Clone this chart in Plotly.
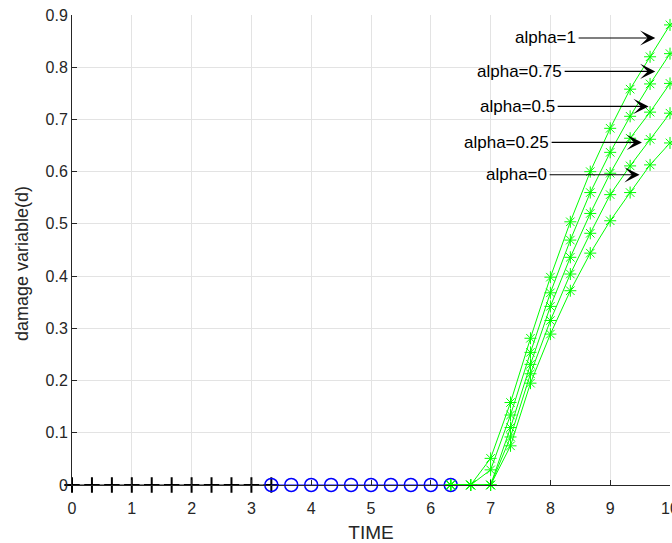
import plotly.graph_objects as go

# ---- data ----
t_black = [0, 1/3, 2/3, 1, 4/3, 5/3, 2, 7/3, 8/3, 3, 10/3]
d_black = [0] * len(t_black)

t_blue = [10/3, 11/3, 4, 13/3, 14/3, 5, 16/3, 17/3, 6, 19/3]
d_blue = [0] * len(t_blue)

t_green = [19/3, 20/3, 7, 22/3, 23/3, 8, 25/3, 26/3, 9, 28/3, 29/3, 10]
d_alpha_1    = [0, 0, 0.051, 0.158, 0.281, 0.398, 0.504, 0.600, 0.683, 0.758, 0.820, 0.881]
d_alpha_075  = [0, 0, 0.029, 0.134, 0.254, 0.368, 0.469, 0.560, 0.637, 0.706, 0.768, 0.826]
d_alpha_05   = [0, 0, 0.0,   0.110, 0.231, 0.342, 0.436, 0.520, 0.597, 0.664, 0.714, 0.769]
d_alpha_025  = [0, 0, 0.0,   0.092, 0.213, 0.315, 0.404, 0.482, 0.556, 0.611, 0.662, 0.712]
d_alpha_0    = [0, 0, 0.0,   0.075, 0.195, 0.289, 0.372, 0.444, 0.506, 0.560, 0.613, 0.655]

labels = ["alpha=1", "alpha=0.75", "alpha=0.5", "alpha=0.25", "alpha=0"]
x_ticks = list(range(0, 11))
y_ticks = [0, 0.1, 0.2, 0.3, 0.4, 0.5, 0.6, 0.7, 0.8, 0.9]

# annotation arrow geometry (tail x, head x, y) in data units
arrow_tail_x = [8.447, 8.213, 8.096, 7.995, 7.962]
arrow_head_x = [9.754, 9.754, 9.642, 9.531, 9.491]
arrow_y = [0.856, 0.792, 0.725, 0.656, 0.594]

FONT = "Liberation Sans, Arial, sans-serif"
TXT = "#262626"

fig = go.Figure()
fig.add_trace(go.Scatter(
    x=t_black, y=d_black, mode="lines+markers",
    line=dict(color="black", width=1),
    marker=dict(symbol="cross-thin-open", size=11, line=dict(color="black", width=2)),
    cliponaxis=False, showlegend=False))
fig.add_trace(go.Scatter(
    x=t_blue, y=d_blue, mode="lines+markers",
    line=dict(color="#0000ff", width=1.2),
    marker=dict(symbol="circle-open", size=13, color="#0000ff", line=dict(color="#0000ff", width=1.5)),
    cliponaxis=False, showlegend=False))
for d in [d_alpha_0, d_alpha_025, d_alpha_05, d_alpha_075, d_alpha_1]:
    fig.add_trace(go.Scatter(
        x=t_green, y=d, mode="lines+markers",
        line=dict(color="#00ff00", width=1),
        marker=dict(symbol="asterisk-open", size=10, color="#00ff00", line=dict(color="#00ff00", width=1)),
        cliponaxis=False, showlegend=False))

annotations = []
for lab, tx, hx, yy in zip(labels, arrow_tail_x, arrow_head_x, arrow_y):
    annotations.append(dict(
        x=hx, y=yy, ax=tx, ay=yy, xref="x", yref="y", axref="x", ayref="y",
        text="", showarrow=True, arrowhead=3, arrowsize=2.3, arrowwidth=1.1,
        arrowcolor="black", standoff=0, startstandoff=0))
    annotations.append(dict(
        x=tx, y=yy, xref="x", yref="y", text=lab, showarrow=False,
        xanchor="right", yanchor="middle", xshift=1,
        font=dict(family=FONT, size=17, color="black")))

# y-axis title as a rotated annotation (paper coords from pixel layout)
annotations.append(dict(
    x=(22 - 72) / 598.0, y=(485 - 264) / 470.0, xref="paper", yref="paper",
    text="damage variable(d)", showarrow=False, textangle=-90,
    xanchor="center", yanchor="middle",
    font=dict(family=FONT, size=18, color=TXT)))

fig.update_layout(
    width=672, height=543,
    margin=dict(l=72, r=2, t=15, b=58, autoexpand=False),
    plot_bgcolor="white", paper_bgcolor="white",
    font=dict(family=FONT, color=TXT),
    annotations=annotations,
    xaxis=dict(
        range=[0, 10], tickvals=x_ticks, ticktext=[str(v) for v in x_ticks],
        showgrid=True, gridcolor="#e3e3e3", gridwidth=1,
        showline=True, linecolor=TXT, linewidth=1,
        ticks="inside", ticklen=5, tickcolor=TXT,
        tickfont=dict(size=16, color=TXT), ticklabelstandoff=9,
        ticklabeloverflow="allow", automargin=False,
        title=dict(text="TIME", font=dict(size=19, color=TXT), standoff=9),
        zeroline=False),
    yaxis=dict(
        range=[0, 0.9], tickvals=y_ticks, ticktext=[("%g" % v) for v in y_ticks],
        showgrid=True, gridcolor="#e3e3e3", gridwidth=1,
        showline=True, linecolor=TXT, linewidth=1,
        ticks="inside", ticklen=5, tickcolor=TXT,
        tickfont=dict(size=16, color=TXT), ticklabeloverflow="allow",
        automargin=False, zeroline=False),
)

fig.write_html("out.html")
